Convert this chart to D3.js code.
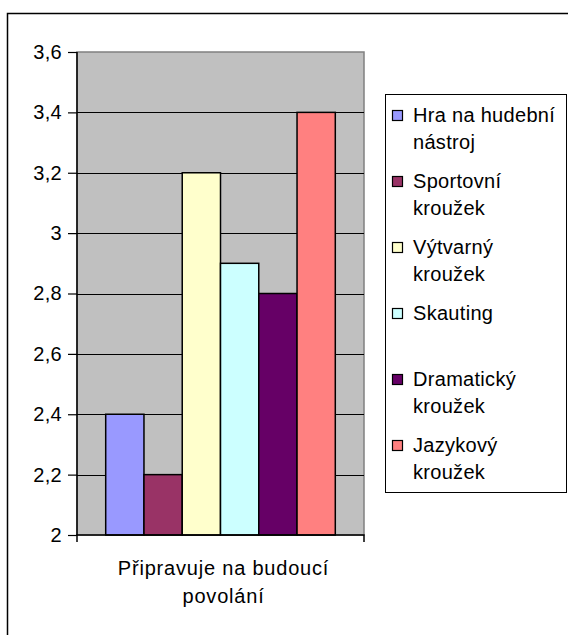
<!DOCTYPE html>
<html>
<head>
<meta charset="utf-8">
<script src="https://cdn.jsdelivr.net/npm/d3@7"></script>
<style>
  html, body { margin: 0; padding: 0; background: #fff; }
  svg { display: block; font-family: "Liberation Sans", Arial, sans-serif; }
</style>
</head>
<body>
<svg id="chart" width="568" height="635"></svg>
<script>
// ---- data ----
const categories = ["Připravuje na budoucí povolání"];
const categoryLines = [["Připravuje na budoucí", "povolání"]];
const seriesNames = ["Hra na hudební nástroj", "Sportovní kroužek", "Výtvarný kroužek", "Skauting", "Dramatický kroužek", "Jazykový kroužek"];
const legendLines = [["Hra na hudební", "nástroj"], ["Sportovní", "kroužek"], ["Výtvarný", "kroužek"], ["Skauting", ""], ["Dramatický", "kroužek"], ["Jazykový", "kroužek"]];
const values = [2.4, 2.2, 3.2, 2.9, 2.8, 3.4];
const seriesColors = ["#9999FF", "#993366", "#FFFFCC", "#CCFFFF", "#660066", "#FF8080"];
const yTicks = [2, 2.2, 2.4, 2.6, 2.8, 3, 3.2, 3.4, 3.6];
const yTickLabels = ["2", "2,2", "2,4", "2,6", "2,8", "3", "3,2", "3,4", "3,6"];

// ---- layout ----
const svg = d3.select("#chart");
const plot = { left: 77, right: 364, top: 52, bottom: 535 };
const fontSize = 20;
const letterSp = 0.3;

// outer chart frame (extends beyond the window on right & bottom)
svg.append("rect")
  .attr("x", 7.5).attr("y", 13.5).attr("width", 700).attr("height", 800)
  .attr("fill", "#fff").attr("stroke", "#000").attr("stroke-width", 1.5);

const y = d3.scaleLinear().domain([2, 3.6]).range([plot.bottom, plot.top]);
const x = d3.scaleBand().domain(seriesNames).range([plot.left, plot.right])
  .paddingInner(0).paddingOuter(0.75);

// plot area
svg.append("rect")
  .attr("x", plot.left).attr("y", plot.top)
  .attr("width", plot.right - plot.left).attr("height", plot.bottom - plot.top)
  .attr("fill", "#C0C0C0").attr("stroke", "#808080").attr("stroke-width", 1.5);

// gridlines
svg.append("g").selectAll("line")
  .data(yTicks.filter(d => d > 2 && d < 3.6))
  .join("line")
  .attr("x1", plot.left).attr("x2", plot.right)
  .attr("y1", d => Math.round(y(d)) + 0.5).attr("y2", d => Math.round(y(d)) + 0.5)
  .attr("stroke", "#000").attr("stroke-width", 1);

// bars
svg.append("g").selectAll("rect")
  .data(values)
  .join("rect")
  .attr("x", (d, i) => x(seriesNames[i]))
  .attr("y", d => y(d))
  .attr("width", x.bandwidth())
  .attr("height", d => y(2) - y(d))
  .attr("fill", (d, i) => seriesColors[i])
  .attr("stroke", "#000").attr("stroke-width", 1.5);

// y axis
const yAxis = d3.axisLeft(y)
  .tickValues(yTicks)
  .tickFormat((d, i) => yTickLabels[i])
  .tickSize(9).tickPadding(6);
const gy = svg.append("g").attr("transform", `translate(${plot.left},0)`).call(yAxis);
gy.select(".domain").attr("stroke", "#000").attr("stroke-width", 1.5).attr("d", `M0,${plot.top}V${plot.bottom}`);
gy.selectAll(".tick line").attr("stroke", "#000").attr("stroke-width", 1.2);
gy.selectAll(".tick text").attr("font-size", fontSize).attr("fill", "#000")
  .attr("letter-spacing", letterSp)
  .attr("font-family", "'Liberation Sans', Arial, sans-serif");

// x axis
const xc = d3.scaleBand().domain(categories).range([plot.left, plot.right]);
const xAxis = d3.axisBottom(xc).tickSize(0).tickFormat("");
const gx = svg.append("g").attr("transform", `translate(0,${plot.bottom})`).call(xAxis);
gx.select(".domain").attr("stroke", "#000").attr("stroke-width", 1.5).attr("d", `M${plot.left},7V0H${plot.right}V7`);

// category label
const catText = svg.append("text")
  .attr("text-anchor", "middle")
  .attr("font-size", fontSize).attr("letter-spacing", 0.8).attr("fill", "#000");
catText.selectAll("tspan").data(categoryLines[0]).join("tspan")
  .attr("x", xc(categories[0]) + xc.bandwidth() / 2 + 3)
  .attr("y", (d, i) => 575 + i * 28)
  .text(d => d);

// legend
const legend = { x: 385.5, y: 94.5, w: 181, h: 398 };
svg.append("rect")
  .attr("x", legend.x).attr("y", legend.y).attr("width", legend.w).attr("height", legend.h)
  .attr("fill", "#fff").attr("stroke", "#000").attr("stroke-width", 1);

const entryY0 = 115, entryStep = 66, lineStep = 27;
const items = svg.append("g").selectAll("g")
  .data(seriesNames)
  .join("g")
  .attr("transform", (d, i) => `translate(0,${entryY0 + i * entryStep})`);
items.append("rect")
  .attr("x", 392.5).attr("y", -4.5).attr("width", 10).attr("height", 10)
  .attr("fill", (d, i) => seriesColors[i])
  .attr("stroke", "#000").attr("stroke-width", 1.2);
items.each(function(d, i) {
  const t = d3.select(this).append("text")
    .attr("font-size", fontSize).attr("letter-spacing", letterSp).attr("fill", "#000");
  t.selectAll("tspan").data(legendLines[i].filter(s => s)).join("tspan")
    .attr("x", 413).attr("y", (s, j) => 7 + j * lineStep)
    .text(s => s);
});
</script>
</body>
</html>
